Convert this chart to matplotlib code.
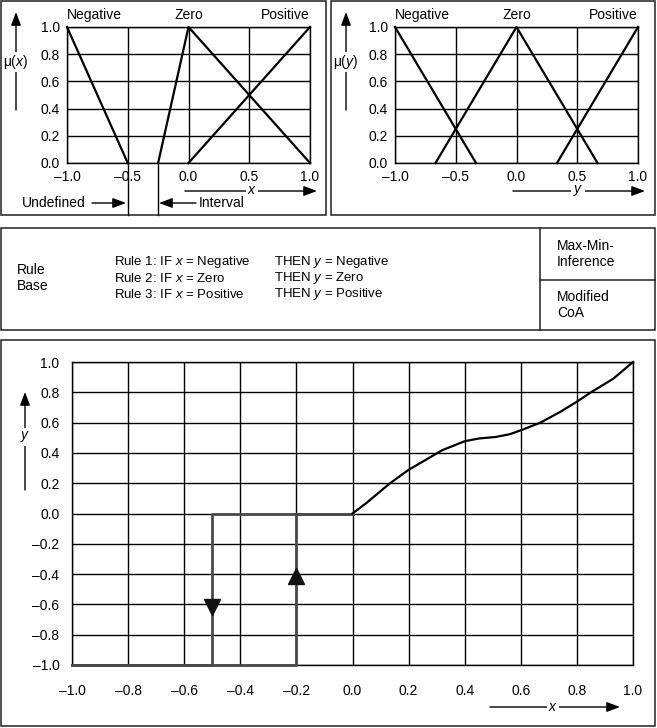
import matplotlib
matplotlib.use("Agg")
import matplotlib.pyplot as plt
from matplotlib.patches import Rectangle

plt.rcParams['font.family'] = ['Liberation Sans', 'DejaVu Sans']
plt.rcParams['mathtext.fontset'] = 'custom'
plt.rcParams['mathtext.rm'] = 'Liberation Sans'
plt.rcParams['mathtext.it'] = 'Liberation Sans:italic'
plt.rcParams['font.size'] = 10

W, H = 657, 728  # figure size in pixels

# --- Data ---
set_names = ['Negative', 'Zero', 'Positive']
mu_ticks = [0.0, 0.2, 0.4, 0.6, 0.8, 1.0]
uni_ticks = [-1.0, -0.5, 0.0, 0.5, 1.0]

# input membership functions mu(x)
in_neg_x, in_neg_mu = [-1.0, -0.5], [1.0, 0.0]
in_zero_x, in_zero_mu = [-0.25, 0.0, 1.0], [0.0, 1.0, 0.0]
in_pos_x, in_pos_mu = [0.0, 1.0], [0.0, 1.0]
undefined_interval = [-0.5, -0.25]

# output membership functions mu(y)
out_neg_y, out_neg_mu = [-1.0, -1/3], [1.0, 0.0]
out_zero_y, out_zero_mu = [-2/3, 0.0, 2/3], [0.0, 1.0, 0.0]
out_pos_y, out_pos_mu = [1/3, 1.0], [0.0, 1.0]

rule_if = ['Rule 1: IF $x$ = Negative', 'Rule 2: IF $x$ = Zero', 'Rule 3: IF $x$ = Positive']
rule_then = ['THEN $y$ = Negative', 'THEN $y$ = Zero', 'THEN $y$ = Positive']

# transfer characteristic y(x)
tc_ticks = [-1.0, -0.8, -0.6, -0.4, -0.2, 0.0, 0.2, 0.4, 0.6, 0.8, 1.0]
curve_x = [0.0, 0.05, 0.134, 0.2, 0.32, 0.4, 0.45, 0.51, 0.56, 0.6, 0.67, 0.74, 0.8, 0.85, 0.93, 1.0]
curve_y = [0.0, 0.07, 0.2, 0.288, 0.418, 0.477, 0.495, 0.505, 0.523, 0.549, 0.6, 0.67, 0.738, 0.8, 0.89, 1.0]
up_x, up_y = [-1.0, -0.2, -0.2, 0.0], [-1.0, -1.0, 0.0, 0.0]
down_x, down_y = [0.0, -0.5, -0.5, -1.0], [0.0, 0.0, -1.0, -1.0]


def fmt(v):
    return f'{v:.1f}'.replace('-', '\u2013')


def rect(x0, y0, x1, y1):
    # pixel box (top-left origin) -> figure fraction
    return [x0 / W, 1 - y1 / H, (x1 - x0) / W, (y1 - y0) / H]


fig = plt.figure(figsize=(W / 100, H / 100), dpi=100)

# canvas for frames, arrows and free text (pixel coordinates)
cv = fig.add_axes([0, 0, 1, 1])
cv.set_xlim(0, W)
cv.set_ylim(H, 0)
cv.axis('off')

frame = dict(fill=False, lw=1.1, edgecolor='#222222')
cv.add_patch(Rectangle((1, 1), 325, 214, **frame))
cv.add_patch(Rectangle((331, 1), 324, 214, **frame))
cv.add_patch(Rectangle((1, 228), 654, 102, **frame))
cv.add_patch(Rectangle((1, 340), 654, 386, **frame))
cv.plot([540, 540], [228, 330], color='#222222', lw=1.1)
cv.plot([540, 655], [280, 280], color='#222222', lw=1.1)


def arrow(x0, y0, x1, y1):
    cv.annotate('', xy=(x1, y1), xytext=(x0, y0),
                arrowprops=dict(arrowstyle='-|>,head_length=0.8,head_width=0.3',
                                lw=1, color='k', shrinkA=0, shrinkB=0))


def label(x, y, s, **kw):
    cv.text(x, y, s, ha='center', va='center',
            bbox=dict(facecolor='white', edgecolor='none', pad=1), **kw)


def member_axes(r):
    ax = fig.add_axes(r)
    ax.set_xlim(-1, 1)
    ax.set_ylim(0, 1)
    ax.set_xticks(uni_ticks)
    ax.set_xticklabels([fmt(v) for v in uni_ticks])
    ax.set_yticks(mu_ticks)
    ax.set_yticklabels([fmt(v) for v in mu_ticks])
    ax.tick_params(length=0, pad=5)
    ax.grid(True, color='k', lw=1)
    for s in ax.spines.values():
        s.set_linewidth(1)
    ax.text(-1, 1.09, set_names[0], ha='left', va='center')
    ax.text(0, 1.09, set_names[1], ha='center', va='center')
    ax.text(1, 1.09, set_names[2], ha='right', va='center')
    return ax


# --- input membership panel ---
ax1 = member_axes(rect(67, 27, 310, 163))
for xs, ms in [(in_neg_x, in_neg_mu), (in_zero_x, in_zero_mu), (in_pos_x, in_pos_mu)]:
    ax1.plot(xs, ms, color='k', lw=1.6, clip_on=False)
for u in undefined_interval:
    ax1.plot([u, u], [0, -0.38], color='k', lw=1, clip_on=False)

arrow(16, 110, 16, 12)
label(16, 62, '\u03bc($x$)')
arrow(185, 191, 317, 191)
label(252, 190, '$x$')
cv.text(22, 203, 'Undefined', ha='left', va='center')
arrow(92, 203, 126, 203)
arrow(196, 203, 159, 203)
cv.text(199, 203, 'Interval', ha='left', va='center')

# --- output membership panel ---
ax2 = member_axes(rect(395, 27, 638, 163))
for ys, ms in [(out_neg_y, out_neg_mu), (out_zero_y, out_zero_mu), (out_pos_y, out_pos_mu)]:
    ax2.plot(ys, ms, color='k', lw=1.6, clip_on=False)

arrow(346, 110, 346, 12)
label(346, 62, '\u03bc($y$)')
arrow(513, 191, 645, 191)
label(578, 190, '$y$')

# --- rule base ---
cv.text(17, 270, 'Rule', ha='left', va='center')
cv.text(17, 286, 'Base', ha='left', va='center')
for i, (a, b) in enumerate(zip(rule_if, rule_then)):
    cv.text(114, 262 + 16 * i, a, ha='left', va='center', fontsize=9.5)
    cv.text(274, 262 + 16 * i, b, ha='left', va='center', fontsize=9.5)
cv.text(557, 246, 'Max-Min-', ha='left', va='center')
cv.text(557, 262, 'Inference', ha='left', va='center')
cv.text(557, 297, 'Modified', ha='left', va='center')
cv.text(557, 313, 'CoA', ha='left', va='center')

# --- transfer characteristic ---
ax3 = fig.add_axes(rect(72, 362, 633, 665))
ax3.set_xlim(-1, 1)
ax3.set_ylim(-1, 1)
ax3.set_xticks(tc_ticks)
ax3.set_xticklabels([fmt(v) for v in tc_ticks])
ax3.set_yticks(tc_ticks)
ax3.set_yticklabels([fmt(v) for v in tc_ticks])
ax3.tick_params(axis='x', length=0, pad=14)
ax3.tick_params(axis='y', length=0, pad=9)
ax3.grid(True, color='k', lw=1)
for s in ax3.spines.values():
    s.set_linewidth(1)

ax3.plot(up_x, up_y, color='#4a4a4a', lw=2, clip_on=False, zorder=3)
ax3.plot(down_x, down_y, color='#4a4a4a', lw=2, clip_on=False, zorder=3)
ax3.plot(curve_x, curve_y, color='k', lw=1.6, clip_on=False, zorder=4)
ax3.plot([-0.5], [-0.62], marker='v', color='#111111', ms=11, zorder=5)
ax3.plot([-0.2], [-0.41], marker='^', color='#111111', ms=11, zorder=5)

arrow(25, 490, 25, 392)
label(25, 437, '$y$')
arrow(490, 707, 620, 707)
label(553, 707, '$x$')

fig.savefig('out.png', dpi=100)
